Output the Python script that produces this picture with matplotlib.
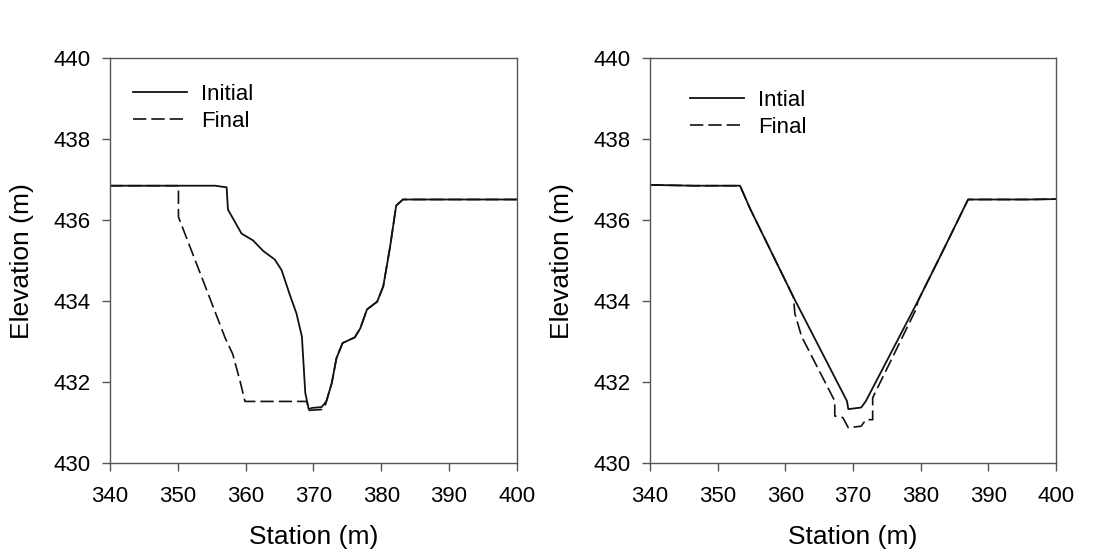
import matplotlib
matplotlib.use("Agg")
import matplotlib.pyplot as plt

plt.rcParams['font.family'] = ['Liberation Sans', 'DejaVu Sans']

# left panel: cross section profiles (station m, elevation m)
left_init_x = [340, 355.5, 357.2, 357.4, 359.4, 361.1, 362.6, 364.3, 365.3, 366.5,
               367.5, 368.3, 368.8, 369.3, 369.8, 371.2, 371.9, 372.7, 373.4, 374.3,
               376.1, 376.9, 377.9, 379.4, 380.3, 381.3, 382.2, 383.2, 400]
left_init_y = [436.85, 436.85, 436.81, 436.26, 435.67, 435.5, 435.24, 435.03, 434.77, 434.17,
               433.7, 433.13, 431.74, 431.34, 431.37, 431.39, 431.53, 431.98, 432.6, 432.97,
               433.11, 433.33, 433.8, 433.99, 434.37, 435.34, 436.36, 436.51, 436.51]
left_final_x = [340, 350.1, 350.1, 357.0, 358.1, 359.2, 359.9, 369.0, 369.4, 371.2, 371.7,
                372.7, 373.4, 374.3, 376.1, 376.9, 377.9, 379.4, 380.3, 381.3, 382.2, 383.2, 400]
left_final_y = [436.85, 436.85, 436.08, 433.09, 432.7, 432.02, 431.53, 431.53, 431.31, 431.33, 431.41,
                431.98, 432.6, 432.97, 433.11, 433.33, 433.8, 433.99, 434.37, 435.34, 436.36, 436.51, 436.51]

# right panel
right_init_x = [340, 346.5, 353.3, 354.8, 361.2, 369.1, 369.3, 371.2, 371.9, 379.6, 383.3, 387.0, 396.0, 400]
right_init_y = [436.87, 436.85, 436.85, 436.28, 434.1, 431.54, 431.34, 431.38, 431.54, 434.01, 435.25, 436.51, 436.51, 436.52]
right_final_x = [340, 346.5, 353.3, 354.8, 361.2, 361.4, 362.4, 367.3, 367.3, 368.5, 369.3, 371.2,
                 371.9, 372.9, 372.9, 379.3, 379.6, 383.3, 387.0, 396.0, 400]
right_final_y = [436.87, 436.85, 436.85, 436.28, 434.1, 433.7, 433.13, 431.54, 431.17, 431.13, 430.88, 430.92,
                 431.08, 431.08, 431.62, 433.8, 434.01, 435.25, 436.51, 436.51, 436.52]

xticks = [340, 350, 360, 370, 380, 390, 400]
yticks = [430, 432, 434, 436, 438, 440]

fig = plt.figure(figsize=(11.14, 5.58), dpi=100)
ax1 = fig.add_axes([0.0987, 0.1694, 0.3653, 0.7267])
ax2 = fig.add_axes([0.5835, 0.1694, 0.3645, 0.7267])

panels = [
    (ax1, left_init_x, left_init_y, left_final_x, left_final_y, "Initial", (0.0565, 0.937)),
    (ax2, right_init_x, right_init_y, right_final_x, right_final_y, "Intial", (0.0985, 0.922)),
]

for ax, ix, iy, fx, fy, lab, anchor in panels:
    ax.plot(ix, iy, color='#111111', lw=1.3, label=lab)
    ax.plot(fx, fy, color='#111111', lw=1.2, linestyle=(0, (8, 3)), label="Final")
    ax.set_xlim(340, 400)
    ax.set_ylim(430, 440)
    ax.set_xticks(xticks)
    ax.set_yticks(yticks)
    ax.tick_params(direction='out', length=6, width=1, color='#555555', labelsize=16)
    ax.tick_params(axis='x', pad=10)
    ax.tick_params(axis='y', pad=8)
    for s in ax.spines.values():
        s.set_color('#555555')
        s.set_linewidth(1)
    ax.set_xlabel("Station (m)", fontsize=19, labelpad=13)
    ax.set_ylabel("Elevation (m)", fontsize=19, labelpad=14)
    ax.legend(loc='upper left', bbox_to_anchor=anchor, frameon=False, fontsize=16,
              handlelength=2.45, handletextpad=0.6, labelspacing=0.3,
              borderpad=0, borderaxespad=0)

fig.savefig("out.png", dpi=100)
